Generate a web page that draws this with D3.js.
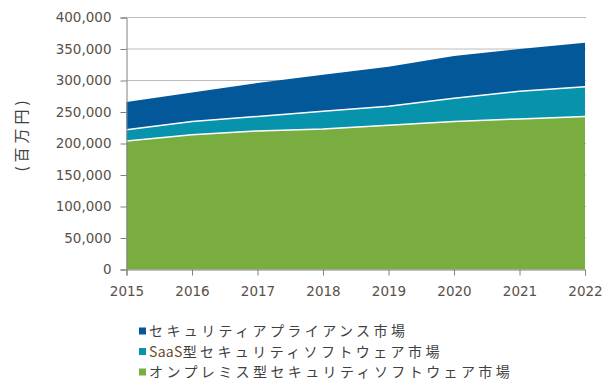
<!DOCTYPE html>
<html>
<head>
<meta charset="utf-8">
<title>セキュリティ市場</title>
<script src="https://cdn.jsdelivr.net/npm/d3@7"></script>
<style>
  body { margin: 0; background: #fff; }
  .tick text { font-family: "DejaVu Sans", sans-serif; font-size: 13.5px; fill: #5b5049; }
  .legend text { font-family: "Noto Sans CJK JP", sans-serif; font-size: 14px; fill: #404040; letter-spacing: 3.4px; }
</style>
</head>
<body>
<div id="chart"></div>
<script>
// values in 百万円
var years = [2015, 2016, 2017, 2018, 2019, 2020, 2021, 2022];
var onPremise = [204000, 214000, 220000, 223000, 229000, 235000, 239000, 243000];
var saas = [18000, 21000, 23000, 28000, 30000, 37000, 44000, 47000];
var appliance = [44000, 46000, 53000, 58000, 63000, 67000, 67000, 70000];
var yTicks = [0, 50000, 100000, 150000, 200000, 250000, 300000, 350000, 400000];

var seriesNames = ["セキュリティアプライアンス市場", "SaaS型セキュリティソフトウェア市場", "オンプレミス型セキュリティソフトウェア市場"];
var colors = { onPremise: "#7aad3f", saas: "#0893ad", appliance: "#03589a" };

var W = 610, H = 386;
var svg = d3.select("#chart").append("svg").attr("width", W).attr("height", H);

var x = d3.scaleLinear().domain([2015, 2022]).range([126.5, 585]);
var y = d3.scaleLinear().domain([0, 400000]).range([269.5, 17.5]);

var rows = years.map(function(yr, i) {
  return { year: yr, onPremise: onPremise[i], saas: saas[i], appliance: appliance[i] };
});
var keys = ["onPremise", "saas", "appliance"];
var stacked = d3.stack().keys(keys)(rows);

// gridlines
svg.append("g").selectAll("line")
  .data(yTicks.slice(1))
  .enter().append("line")
  .attr("x1", 126.5).attr("x2", 586)
  .attr("y1", function(d) { return y(d); })
  .attr("y2", function(d) { return y(d); })
  .style("stroke", "#bdbdbd")
  .style("stroke-width", 1);

var area = d3.area()
  .x(function(d) { return x(d.data.year); })
  .y0(function(d) { return y(d[0]); })
  .y1(function(d) { return y(d[1]); });

svg.append("g").selectAll("path")
  .data(stacked)
  .enter().append("path")
  .attr("d", area)
  .style("fill", function(d) { return colors[d.key]; });

// white seams on top of the lower two layers
var topLine = d3.line()
  .x(function(d) { return x(d.data.year); })
  .y(function(d) { return y(d[1]); });

svg.append("g").selectAll("path")
  .data(stacked.slice(0, 2))
  .enter().append("path")
  .attr("d", topLine)
  .style("fill", "none")
  .style("stroke", "#fff")
  .style("stroke-width", 1.5);

// axes
var yAxis = svg.append("g")
  .attr("transform", "translate(126.5,0)")
  .call(d3.axisLeft(y).tickValues(yTicks).tickFormat(d3.format(",")).tickSize(6).tickPadding(9));

var xAxis = svg.append("g")
  .attr("transform", "translate(0,269.5)")
  .call(d3.axisBottom(x).tickValues(years).tickFormat(d3.format("d")).tickSize(6).tickPadding(9));

[yAxis, xAxis].forEach(function(a) {
  a.select(".domain").style("stroke", "#808080");
  a.selectAll(".tick line").style("stroke", "#808080");
});
xAxis.selectAll(".tick text").attr("dy", "0.85em");

// unit label
svg.append("text")
  .attr("transform", "translate(22,134) rotate(-90)")
  .attr("text-anchor", "middle")
  .attr("dy", "0.35em")
  .style("font-family", "'Noto Sans CJK JP', sans-serif")
  .style("font-size", "15px")
  .style("letter-spacing", "4px")
  .style("fill", "#404040")
  .text("(百万円)");

// legend
var legendKeys = ["appliance", "saas", "onPremise"];
var legend = svg.append("g").attr("class", "legend");
var item = legend.selectAll("g")
  .data(legendKeys)
  .enter().append("g")
  .attr("transform", function(d, i) { return "translate(139," + (331 + i * 20.5) + ")"; });

item.append("rect")
  .attr("x", 0).attr("y", -3.5)
  .attr("width", 7).attr("height", 7)
  .style("fill", function(d) { return colors[d]; });

var label = item.append("text")
  .attr("x", 10)
  .attr("dy", "0.36em");

// "SaaS" is set tight in the reference, the kana are spaced out
label.each(function(d, i) {
  var t = d3.select(this);
  var name = seriesNames[i];
  if (name.indexOf("SaaS") === 0) {
    t.append("tspan").style("letter-spacing", "0.3px").style("fill", "#6b4a2e").text("SaaS");
    t.append("tspan").text(name.slice(4));
  } else {
    t.text(name);
  }
});
</script>
</body>
</html>
